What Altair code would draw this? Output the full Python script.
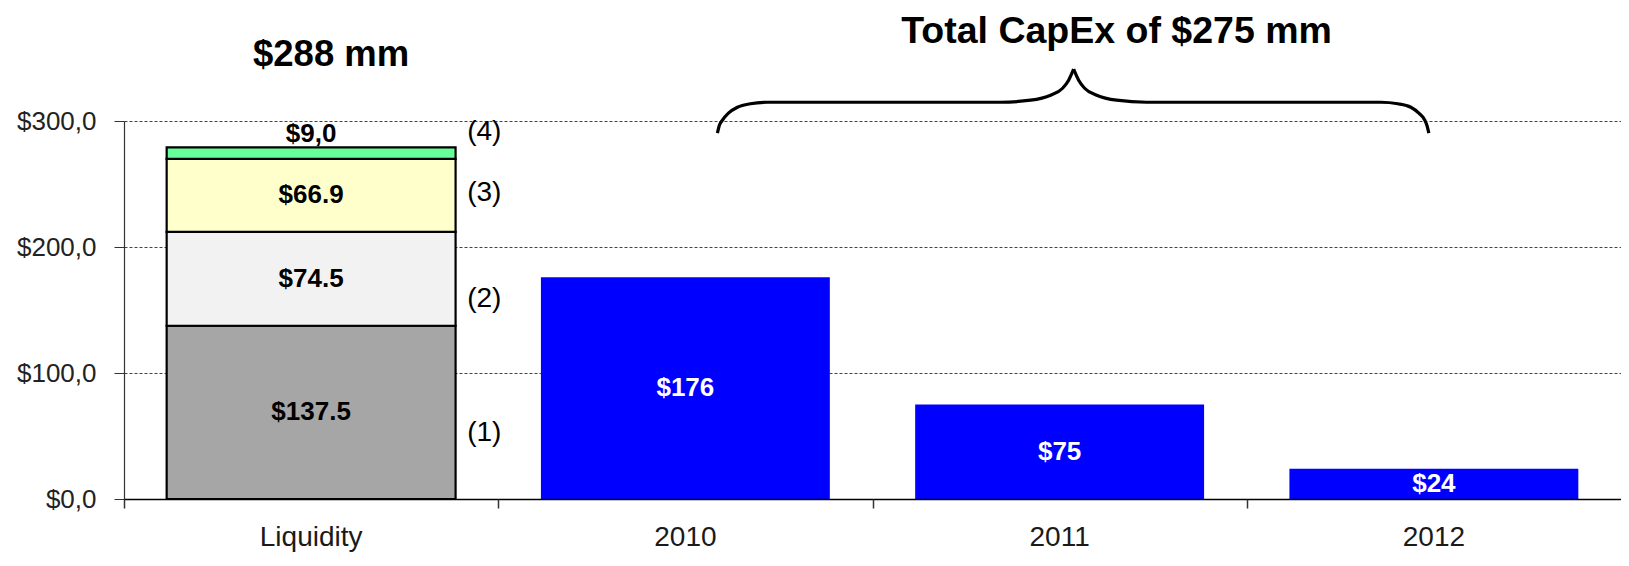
import altair as alt
import pandas as pd

# ---------------- data ----------------
categories = ["Liquidity", "2010", "2011", "2012"]

liq_values = [137.5, 74.5, 58.0, 9.0]            # drawn segment heights ($mm)
liq_labels = ["$137.5", "$74.5", "$66.9", "$9,0"]
liq_colors = ["#A6A6A6", "#F2F2F2", "#FFFFCC", "#66FF99"]
footnotes = ["(1)", "(2)", "(3)", "(4)"]
footnote_y = [52, 159, 243, 291]                 # anchor values of the note markers

capex_years = ["2010", "2011", "2012"]
capex_values = [176, 75, 24]
capex_labels = ["$176", "$75", "$24"]

liq_title = "$288 mm"
liq_title_y = 352
capex_title = "Total CapEx of $275 mm"
capex_title_x = 2.652
capex_title_y = 371

# category boundaries (in category units) where the x ticks sit
boundaries = [0, 1, 2, 3]

# curly brace outline, x in category units (0..4), y in $mm
brace_x = [1.5856, 1.5909, 1.5989, 1.6150, 1.6390, 1.6738, 1.7193, 2.3422, 2.4225, 2.4759, 2.5080, 2.5241, 2.5374,
           2.5374, 2.5508, 2.5668, 2.5989, 2.6524, 2.7326, 3.3583, 3.4037, 3.4385, 3.4599, 3.4759, 3.4813, 3.4866]
brace_y = [290.3, 296.6, 300.6, 306.2, 310.9, 313.7, 314.9, 314.9, 316.5, 320.5, 326.0, 332.4, 341.1,
           341.1, 332.4, 326.0, 320.5, 316.5, 314.9, 314.9, 313.7, 310.9, 306.2, 300.6, 296.6, 290.3]
brace_half = ["L"] * 13 + ["R"] * 13

# ---------------- tables ----------------
ends = []
acc = 0.0
for v in liq_values:
    acc += v
    ends.append(acc)
starts = [e - v for e, v in zip(ends, liq_values)]
liq_df = pd.DataFrame({
    "cat": ["Liquidity"] * len(liq_values),
    "start": starts, "end": ends, "fill": liq_colors, "label": liq_labels,
})
liq_df["label_y"] = [(s + e) / 2 if (e - s) >= 20 else e + 11 for s, e in zip(starts, ends)]

note_df = pd.DataFrame({"cat": ["Liquidity"] * 4, "note": footnotes, "y": footnote_y})

capex_df = pd.DataFrame({"cat": capex_years, "value": capex_values, "label": capex_labels})
capex_df["mid"] = capex_df["value"] / 2

brace_df = pd.DataFrame({"bx": brace_x, "by": brace_y, "half": brace_half, "i": list(range(len(brace_x)))})
title_df = pd.DataFrame({"cat": ["Liquidity"], "t": [liq_title], "y": [liq_title_y]})
ctitle_df = pd.DataFrame({"bx": [capex_title_x], "t": [capex_title], "y": [capex_title_y]})

FONT = "Liberation Sans"
W, H = 1497, 378

xscale = alt.Scale(domain=categories, paddingInner=0.228, paddingOuter=0.114)
yscale = alt.Scale(domain=[0, 300], nice=False, zero=True)

x_axis = alt.Axis(
    title=None, labelAngle=0, labelFont=FONT, labelFontSize=28, orient="bottom",
    labelColor="#1a1a1a", labelPadding=24, ticks=False,
    domainColor="#000000", domainWidth=1.5, grid=False, zindex=1,
)
y_axis = alt.Axis(
    title=None, values=[0, 100, 200, 300],
    labelExpr="'$' + replace(format(datum.value, '.1f'), '.', ',')",
    labelFont=FONT, labelFontSize=26, labelColor="#222222", labelPadding=18,
    tickSize=10, tickColor="#333333", domainColor="#333333", domainWidth=1.2,
    grid=True, gridDash=[3, 2], gridColor="#444444", gridWidth=1,
)
tick_axis = alt.Axis(
    title=None, orient="bottom", values=boundaries, labels=False, domain=False, grid=False,
    ticks=True, tickSize=9, tickColor="#333333", tickWidth=1.5, zindex=1,
)

X = alt.X("cat:N", scale=xscale, sort=categories)

liq_bars = alt.Chart(liq_df).mark_bar(stroke="black", strokeWidth=2.2).encode(
    x=alt.X("cat:N", scale=xscale, axis=x_axis, sort=categories),
    y=alt.Y("start:Q", scale=yscale, axis=y_axis),
    y2="end:Q",
    fill=alt.Fill("fill:N", scale=None),
)

capex_bars = alt.Chart(capex_df).mark_bar(color="#0000FF").encode(
    x=X,
    y=alt.Y("value:Q", scale=yscale),
)

liq_text = alt.Chart(liq_df).mark_text(font=FONT, fontSize=26, fontWeight="bold", color="black").encode(
    x=X,
    y=alt.Y("label_y:Q", scale=yscale),
    text="label:N",
)

capex_text = alt.Chart(capex_df).mark_text(font=FONT, fontSize=26, fontWeight="bold", color="white").encode(
    x=X,
    y=alt.Y("mid:Q", scale=yscale),
    text="label:N",
)

note_text = alt.Chart(note_df).mark_text(font=FONT, fontSize=28, align="left", dx=156, color="black").encode(
    x=X,
    y=alt.Y("y:Q", scale=yscale),
    text="note:N",
)

liq_title_text = alt.Chart(title_df).mark_text(font=FONT, fontSize=36.5, fontWeight="bold", color="black",
                                               dx=20).encode(
    x=X,
    y=alt.Y("y:Q", scale=yscale),
    text="t:N",
)

nominal = alt.layer(liq_bars, capex_bars, liq_text, capex_text, note_text, liq_title_text)

bx_scale = alt.Scale(domain=[0, 4], nice=False, zero=False)
brace = alt.Chart(brace_df).mark_line(color="black", strokeWidth=3.2, interpolate="monotone").encode(
    x=alt.X("bx:Q", scale=bx_scale, axis=tick_axis),
    y=alt.Y("by:Q", scale=yscale),
    detail="half:N",
    order="i:Q",
)
ctitle = alt.Chart(ctitle_df).mark_text(font=FONT, fontSize=37.5, fontWeight="bold", color="black").encode(
    x=alt.X("bx:Q", scale=bx_scale),
    y=alt.Y("y:Q", scale=yscale),
    text="t:N",
)
quant = alt.layer(brace, ctitle)

chart = alt.layer(nominal, quant).resolve_scale(x="independent").properties(
    width=W, height=H,
    autosize=alt.AutoSizeParams(type="none"),
    padding={"left": 116, "top": 113, "right": 0, "bottom": 53},
    background="white",
).configure_view(stroke=None)

chart.save("out.html", embed_options={"renderer": "svg", "actions": False})
